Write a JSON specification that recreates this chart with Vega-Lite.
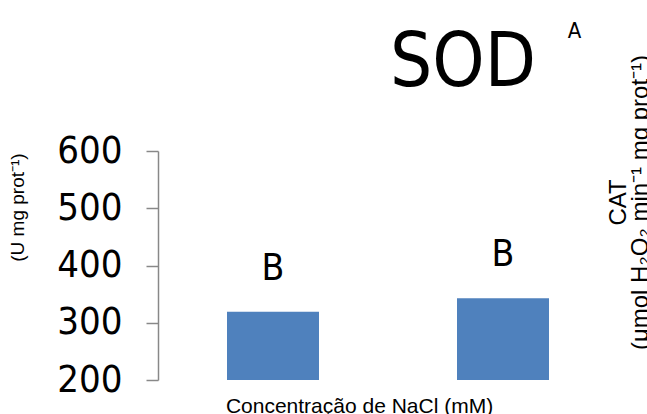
{
  "$schema": "https://vega.github.io/schema/vega-lite/v6.json",
  "width": 460,
  "height": 229,
  "autosize": {"type": "none"},
  "padding": {"left": 158, "top": 151, "right": 29, "bottom": 34},
  "background": "white",
  "data": {"values": [
    {"conc": "0", "sod": 319, "letter": "B"},
    {"conc": "100", "sod": 343, "letter": "B"}
  ]},
  "title": {"text": "SOD", "font": "DejaVu Sans Condensed, Open Sans, sans-serif", "fontSize": 74, "fontWeight": "normal", "color": "black", "anchor": "middle", "frame": "group", "dx": 75, "offset": -141, "baseline": "alphabetic"},
  "config": {"view": {"stroke": null}},
  "layer": [
    {
      "mark": {"type": "bar", "color": "#4F81BD"},
      "encoding": {
        "x": {"field": "conc", "type": "nominal", "sort": null,
          "scale": {"paddingInner": 0.6, "paddingOuter": 0.3},
          "axis": {"orient": "bottom", "labels": false, "ticks": false, "domain": false,
            "title": "Concentração de NaCl (mM)", "titleFont": "Liberation Sans", "titleFontSize": 21,
            "titleFontWeight": "normal", "titleColor": "black", "titleX": 201, "titleY": 32,
            "titleAlign": "center", "titleBaseline": "alphabetic"}},
        "y": {"field": "sod", "type": "quantitative",
          "scale": {"domain": [200, 600], "zero": false, "nice": false},
          "axis": {"orient": "left", "values": [200, 300, 400, 500, 600], "grid": false,
            "tickSize": 12, "tickColor": "#888888", "tickWidth": 1.5, "domainColor": "#888888", "domainWidth": 1.5,
            "labelFont": "DejaVu Sans Condensed, Open Sans, sans-serif", "labelFontSize": 38, "labelColor": "black", "labelPadding": 24,
            "labelFlush": false, "labelOverlap": false,
            "title": "(U mg prot⁻¹)", "titleFont": "Liberation Sans", "titleFontSize": 19, "titleFontWeight": "normal",
            "titleColor": "black", "titleAngle": 270, "titleX": -141, "titleY": 56, "titleAlign": "center", "titleBaseline": "middle"}},
        "y2": {"datum": 200}
      }
    },
    {
      "mark": {"type": "text", "dy": -43, "font": "DejaVu Sans Condensed, Open Sans, sans-serif", "fontSize": 37, "color": "black", "baseline": "middle"},
      "encoding": {
        "x": {"field": "conc", "type": "nominal", "sort": null,
          "axis": {"orient": "top", "labels": false, "ticks": false, "domain": false,
            "title": "A", "titleFont": "DejaVu Sans Condensed, Open Sans, sans-serif", "titleFontSize": 22, "titleFontWeight": "normal", "titleColor": "black",
            "titleX": 416, "titleY": -114, "titleAlign": "center", "titleBaseline": "alphabetic"}},
        "y": {"field": "sod", "type": "quantitative",
          "axis": {"orient": "right", "labels": false, "ticks": false, "domain": false, "grid": false,
            "title": ["CAT", "(μmol H₂O₂ min⁻¹ mg prot⁻¹)"], "titleFont": "Liberation Sans", "titleFontSize": 24,
            "titleFontWeight": "normal", "titleColor": "black", "titleAngle": 270, "titleX": 0, "titleY": 51,
            "titleAlign": "center", "titleBaseline": "middle", "titleLineHeight": 22}},
        "text": {"field": "letter"}
      }
    }
  ],
  "resolve": {"axis": {"x": "independent", "y": "independent"}}
}
